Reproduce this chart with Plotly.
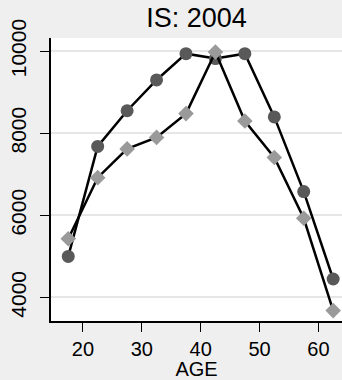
import plotly.graph_objects as go

# Age-group midpoints and the two series plotted against them
ages = [17.5, 22.5, 27.5, 32.5, 37.5, 42.5, 47.5, 52.5, 57.5, 62.5]
series_circle = [5000, 7680, 8550, 9300, 9940, 9820, 9940, 8400, 6580, 4450]
series_diamond = [5430, 6920, 7620, 7900, 8480, 9980, 8300, 7410, 5930, 3680]

x_ticks = [20, 30, 40, 50, 60]
y_ticks = [4000, 6000, 8000, 10000]
y_tick_text = ["4000", "6000", "8000", "10000"]

FONT = "Liberation Sans, Arial, sans-serif"

fig = go.Figure()
fig.add_trace(go.Scatter(
    x=ages, y=series_circle, mode="lines+markers", name="Group 1",
    line=dict(color="black", width=2.5),
    marker=dict(symbol="circle", size=13, color="#595959"),
    showlegend=False,
))
fig.add_trace(go.Scatter(
    x=ages, y=series_diamond, mode="lines+markers", name="Group 2",
    line=dict(color="black", width=2.5),
    marker=dict(symbol="diamond", size=12, color="#9a9a9a"),
    showlegend=False,
))

fig.update_layout(
    width=342, height=380,
    margin=dict(l=51, r=0, t=38, b=59),
    paper_bgcolor="#efefef",
    plot_bgcolor="white",
    font=dict(family=FONT, color="black", size=20),
    title=dict(
        text="IS: 2004", x=0.5, xref="paper", xanchor="center",
        y=1 - 18 / 380, yref="container", yanchor="middle",
        font=dict(size=27, family=FONT, color="black"),
    ),
    xaxis=dict(
        range=[14.57, 64.0], tickvals=x_ticks,
        ticks="outside", ticklen=9, tickwidth=1, tickcolor="black",
        showline=True, linecolor="black", linewidth=1.5,
        showgrid=False, zeroline=False,
        tickfont=dict(size=20), ticklabelstandoff=0,
        title=dict(text="AGE", font=dict(size=20), standoff=3),
    ),
    yaxis=dict(
        range=[3427, 10322], tickvals=y_ticks, ticktext=y_tick_text,
        ticks="outside", ticklen=9, tickwidth=1, tickcolor="black",
        showline=True, linecolor="black", linewidth=1.5,
        showgrid=True, gridcolor="#e6e6e6", gridwidth=2,
        zeroline=False, tickangle=-90, ticklabelstandoff=6,
        tickfont=dict(size=21),
    ),
)

fig.write_html("out.html")
